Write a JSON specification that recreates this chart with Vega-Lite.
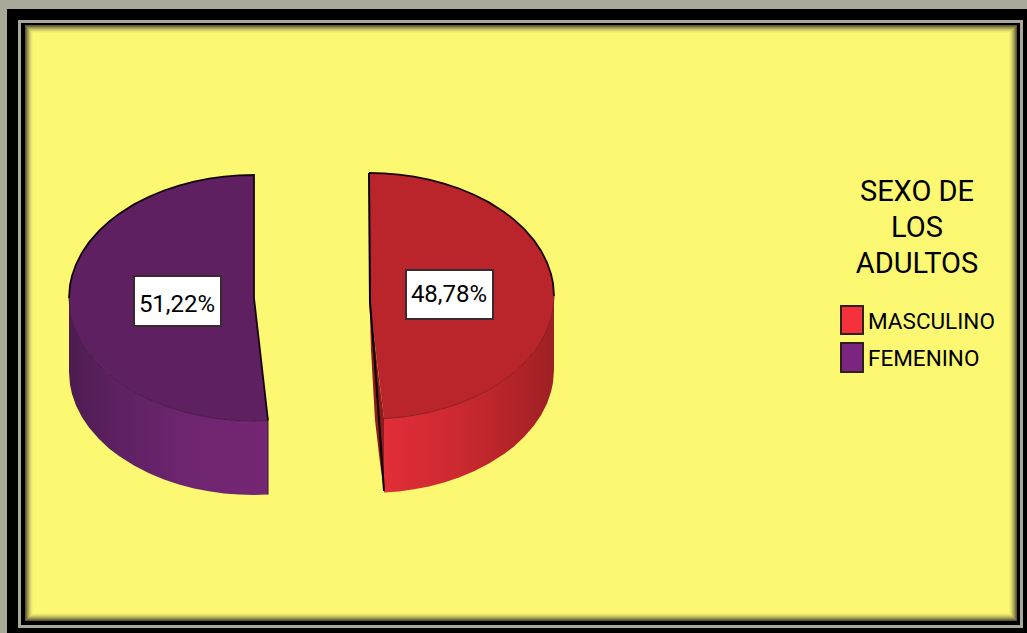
{
  "$schema": "https://vega.github.io/schema/vega-lite/v6.json",
  "width": 1027,
  "height": 633,
  "padding": 0,
  "autosize": {"type": "fit", "contains": "padding"},
  "background": "#a9a898",
  "view": {"stroke": null},
  "datasets": {
    "frame": [
      {"x": 7, "x2": 1027, "y": 9, "y2": 633, "fill": "#000000"},
      {"x": 18, "x2": 1023, "y": 20, "y2": 628, "fill": "#a9a898"},
      {"x": 21, "x2": 1020, "y": 23, "y2": 625, "fill": "#000000"},
      {"x": 25, "x2": 1017, "y": 25, "y2": 621, "fill": "#5a5830"},
      {"x": 26, "x2": 1016, "y": 26, "y2": 620, "fill": "#77743f"},
      {"x": 27, "x2": 1015, "y": 27, "y2": 619, "fill": "#93904c"},
      {"x": 28, "x2": 1014, "y": 28, "y2": 618, "fill": "#aeaa58"},
      {"x": 29, "x2": 1013, "y": 29, "y2": 617, "fill": "#c6c262"},
      {"x": 30, "x2": 1012, "y": 30, "y2": 616, "fill": "#dad669"},
      {"x": 31, "x2": 1011, "y": 31, "y2": 615, "fill": "#e9e56e"},
      {"x": 32, "x2": 1010, "y": 32, "y2": 614, "fill": "#f4f071"},
      {"x": 33, "x2": 1009, "y": 33, "y2": 613, "fill": "#fcf872"}
    ],
    "purpleWall": [
      {"x": 69, "y": 298, "y2": 372}, {"x": 70, "y": 310.8, "y2": 384.8},
      {"x": 72, "y": 320.1, "y2": 394.1}, {"x": 76, "y": 331.5, "y2": 405.5},
      {"x": 82, "y": 343.3, "y2": 417.3}, {"x": 89, "y": 353.6, "y2": 427.6},
      {"x": 99, "y": 365.1, "y2": 439.1}, {"x": 109, "y": 374.4, "y2": 448.4},
      {"x": 119, "y": 382.1, "y2": 456.1}, {"x": 134, "y": 391.6, "y2": 465.6},
      {"x": 149, "y": 399.3, "y2": 473.3}, {"x": 164, "y": 405.5, "y2": 479.5},
      {"x": 179, "y": 410.4, "y2": 484.4}, {"x": 194, "y": 414.4, "y2": 488.4},
      {"x": 209, "y": 417.3, "y2": 491.3}, {"x": 224, "y": 419.4, "y2": 493.4},
      {"x": 239, "y": 420.6, "y2": 494.6}, {"x": 254, "y": 421, "y2": 495},
      {"x": 268, "y": 420.6, "y2": 494.6}
    ],
    "purpleTop": [
      {"x": 69, "y": 298, "y2": 298}, {"x": 70, "y": 285.2, "y2": 310.8},
      {"x": 72, "y": 275.9, "y2": 320.1}, {"x": 76, "y": 264.5, "y2": 331.5},
      {"x": 82, "y": 252.7, "y2": 343.3}, {"x": 89, "y": 242.4, "y2": 353.6},
      {"x": 99, "y": 230.9, "y2": 365.1}, {"x": 109, "y": 221.6, "y2": 374.4},
      {"x": 119, "y": 213.9, "y2": 382.1}, {"x": 134, "y": 204.4, "y2": 391.6},
      {"x": 149, "y": 196.7, "y2": 399.3}, {"x": 164, "y": 190.5, "y2": 405.5},
      {"x": 179, "y": 185.6, "y2": 410.4}, {"x": 194, "y": 181.6, "y2": 414.4},
      {"x": 209, "y": 178.7, "y2": 417.3}, {"x": 224, "y": 176.6, "y2": 419.4},
      {"x": 239, "y": 175.4, "y2": 420.6}, {"x": 254, "y": 175, "y2": 421},
      {"x": 254, "y": 298, "y2": 421}, {"x": 268, "y": 420.6, "y2": 420.6}
    ],
    "purpleEdge": [
      {"x": 268, "y": 420.6}, {"x": 268, "y": 494.6}
    ],
    "redWall": [
      {"x": 384, "y": 418.6, "y2": 492.6}, {"x": 399, "y": 417.4, "y2": 491.4},
      {"x": 414, "y": 415.3, "y2": 489.3}, {"x": 429, "y": 412.4, "y2": 486.4},
      {"x": 444, "y": 408.4, "y2": 482.4}, {"x": 459, "y": 403.5, "y2": 477.5},
      {"x": 474, "y": 397.3, "y2": 471.3}, {"x": 489, "y": 389.6, "y2": 463.6},
      {"x": 504, "y": 380.1, "y2": 454.1}, {"x": 514, "y": 372.4, "y2": 446.4},
      {"x": 524, "y": 363.1, "y2": 437.1}, {"x": 534, "y": 351.6, "y2": 425.6},
      {"x": 541, "y": 341.3, "y2": 415.3}, {"x": 547, "y": 329.5, "y2": 403.5},
      {"x": 551, "y": 318.1, "y2": 392.1}, {"x": 553, "y": 308.8, "y2": 382.8},
      {"x": 554, "y": 296, "y2": 370}
    ],
    "redTop": [
      {"x": 369, "y": 173, "y2": 296}, {"x": 384, "y": 173.4, "y2": 418.6},
      {"x": 399, "y": 174.6, "y2": 417.4}, {"x": 414, "y": 176.7, "y2": 415.3},
      {"x": 429, "y": 179.6, "y2": 412.4}, {"x": 444, "y": 183.6, "y2": 408.4},
      {"x": 459, "y": 188.5, "y2": 403.5}, {"x": 474, "y": 194.7, "y2": 397.3},
      {"x": 489, "y": 202.4, "y2": 389.6}, {"x": 504, "y": 211.9, "y2": 380.1},
      {"x": 514, "y": 219.6, "y2": 372.4}, {"x": 524, "y": 228.9, "y2": 363.1},
      {"x": 534, "y": 240.4, "y2": 351.6}, {"x": 541, "y": 250.7, "y2": 341.3},
      {"x": 547, "y": 262.5, "y2": 329.5}, {"x": 551, "y": 273.9, "y2": 318.1},
      {"x": 553, "y": 283.2, "y2": 308.8}, {"x": 554, "y": 296, "y2": 296}
    ],
    "redCutFace": [
      {"x": 369.5, "y": 300, "y2": 300}, {"x": 371, "y": 312, "y2": 350},
      {"x": 375, "y": 345, "y2": 420}, {"x": 380, "y": 387, "y2": 463},
      {"x": 384, "y": 418, "y2": 491}
    ],
    "redCutEdge": [
      {"x": 369, "y": 173}, {"x": 370, "y": 303}, {"x": 374, "y": 350},
      {"x": 379, "y": 420}, {"x": 384, "y": 491}
    ],
    "shares": [
      {"sexo": "MASCULINO", "label": "48,78%", "x": 406, "x2": 493, "y": 270, "y2": 319, "cx": 449, "cy": 295},
      {"sexo": "FEMENINO", "label": "51,22%", "x": 134, "x2": 221, "y": 276, "y2": 326, "cx": 177, "cy": 305}
    ],
    "legendTitle": [
      {"text": "SEXO DE", "x": 917, "y": 192},
      {"text": "LOS", "x": 917, "y": 228},
      {"text": "ADULTOS", "x": 917, "y": 264}
    ],
    "legendItems": [
      {"sexo": "MASCULINO", "fill": "#f5323c", "x": 841, "x2": 863, "y": 306, "y2": 334, "tx": 868, "ty": 322},
      {"sexo": "FEMENINO", "fill": "#7a2580", "x": 841, "x2": 863, "y": 343, "y2": 372, "tx": 868, "ty": 359}
    ]
  },
  "encoding": {
    "x": {"field": "x", "type": "quantitative", "scale": {"domain": [0, 1027]}, "axis": null},
    "y": {"field": "y", "type": "quantitative", "scale": {"domain": [633, 0]}, "axis": null}
  },
  "layer": [
    {
      "data": {"name": "frame"},
      "mark": {"type": "rect"},
      "encoding": {
        "x2": {"field": "x2"},
        "y2": {"field": "y2"},
        "fill": {"field": "fill", "type": "nominal", "scale": null}
      }
    },
    {
      "data": {"name": "purpleWall"},
      "mark": {
        "type": "area",
        "color": {
          "gradient": "linear", "x1": 0, "x2": 1, "y1": 0, "y2": 0,
          "stops": [
            {"offset": 0, "color": "#4d1c50"},
            {"offset": 0.25, "color": "#5e2162"},
            {"offset": 0.6, "color": "#6e2570"},
            {"offset": 1, "color": "#752672"}
          ]
        }
      },
      "encoding": {"y2": {"field": "y2"}}
    },
    {
      "data": {"name": "redWall"},
      "mark": {
        "type": "area",
        "color": {
          "gradient": "linear", "x1": 0, "x2": 1, "y1": 0, "y2": 0,
          "stops": [
            {"offset": 0, "color": "#e22e37"},
            {"offset": 0.45, "color": "#cb2930"},
            {"offset": 0.8, "color": "#b02328"},
            {"offset": 1, "color": "#9c2024"}
          ]
        }
      },
      "encoding": {"y2": {"field": "y2"}}
    },
    {
      "data": {"name": "purpleTop"},
      "mark": {"type": "area", "color": "#5e2060"},
      "encoding": {"y2": {"field": "y2"}}
    },
    {
      "data": {"name": "redTop"},
      "mark": {"type": "area", "color": "#b9252b"},
      "encoding": {"y2": {"field": "y2"}}
    },
    {
      "data": {"name": "redCutFace"},
      "mark": {"type": "area", "color": "#8f1a1f"},
      "encoding": {"y2": {"field": "y2"}}
    },
    {
      "data": {"name": "purpleWall"},
      "mark": {"type": "line", "color": "#451a48", "strokeWidth": 1},
      "encoding": {}
    },
    {
      "data": {"name": "redWall"},
      "mark": {"type": "line", "color": "#8a1c20", "strokeWidth": 1},
      "encoding": {}
    },
    {
      "data": {"name": "purpleTop"},
      "mark": {"type": "line", "color": "#14060f", "strokeWidth": 1.8},
      "encoding": {}
    },
    {
      "data": {"name": "redTop"},
      "mark": {"type": "line", "color": "#1c0508", "strokeWidth": 1.8},
      "encoding": {}
    },
    {
      "data": {"name": "purpleEdge"},
      "mark": {"type": "line", "color": "#3a1440", "strokeWidth": 1},
      "encoding": {}
    },
    {
      "data": {"name": "redCutEdge"},
      "mark": {"type": "line", "color": "#000000", "strokeWidth": 2},
      "encoding": {}
    },
    {
      "data": {"name": "shares"},
      "mark": {"type": "rect", "fill": "#ffffff", "stroke": "#3a2a30", "strokeWidth": 2},
      "encoding": {"x2": {"field": "x2"}, "y2": {"field": "y2"}}
    },
    {
      "data": {"name": "shares"},
      "mark": {"type": "text", "font": "Roboto", "fontSize": 24, "color": "#000000", "align": "center", "baseline": "middle"},
      "encoding": {
        "x": {"field": "cx", "type": "quantitative"},
        "y": {"field": "cy", "type": "quantitative"},
        "text": {"field": "label"}
      }
    },
    {
      "data": {"name": "legendTitle"},
      "mark": {"type": "text", "font": "Roboto", "fontSize": 29, "color": "#000000", "align": "center", "baseline": "middle"},
      "encoding": {"text": {"field": "text"}}
    },
    {
      "data": {"name": "legendItems"},
      "mark": {"type": "rect", "stroke": "#30201c", "strokeWidth": 2},
      "encoding": {
        "x2": {"field": "x2"},
        "y2": {"field": "y2"},
        "fill": {"field": "fill", "type": "nominal", "scale": null}
      }
    },
    {
      "data": {"name": "legendItems"},
      "mark": {"type": "text", "font": "Roboto", "fontSize": 22.5, "color": "#000000", "align": "left", "baseline": "middle"},
      "encoding": {
        "x": {"field": "tx", "type": "quantitative"},
        "y": {"field": "ty", "type": "quantitative"},
        "text": {"field": "sexo"}
      }
    }
  ]
}
